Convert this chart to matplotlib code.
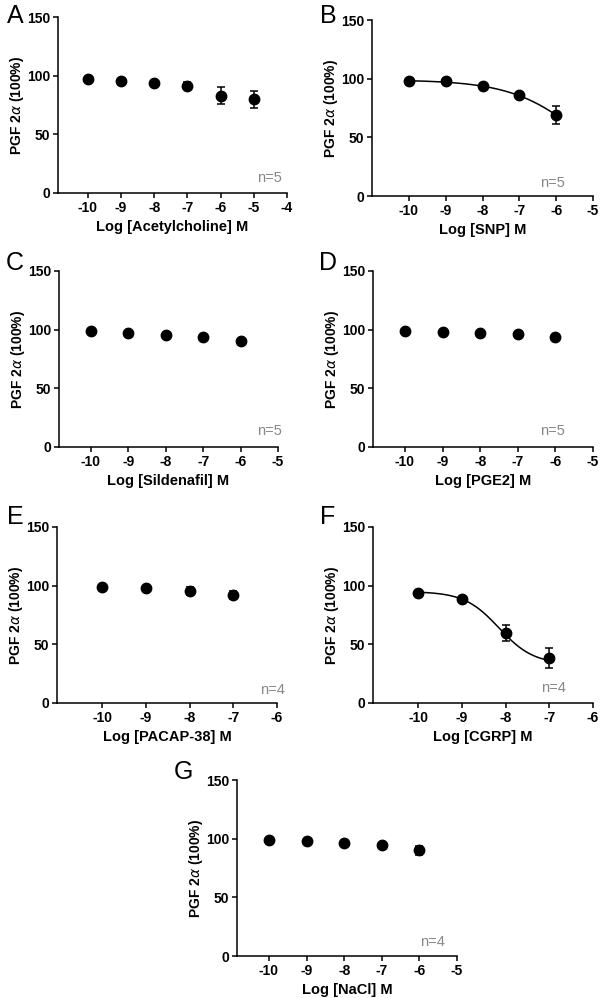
import numpy as np
import matplotlib
matplotlib.use("Agg")
import matplotlib.pyplot as plt

plt.rcParams['font.family'] = ['Liberation Sans', 'DejaVu Sans']
plt.rcParams['axes.unicode_minus'] = False

# ---- data ----
labels = ["A", "B", "C", "D", "E", "F", "G"]
xlabels = ["Log [Acetylcholine] M", "Log [SNP] M", "Log [Sildenafil] M",
           "Log [PGE2] M", "Log [PACAP-38] M", "Log [CGRP] M", "Log [NaCl] M"]
n_text = ["n=5", "n=5", "n=5", "n=5", "n=4", "n=4", "n=4"]

x_A = [-10, -9, -8, -7, -6, -5]
y_A = [97.5, 95.8, 93.8, 91.5, 83.0, 79.8]
e_A = [1.0, 1.0, 1.0, 2.8, 7.2, 7.0]

x_B = [-10, -9, -8, -7, -6]
y_B = [98.3, 97.6, 93.5, 85.8, 69.0]
e_B = [1.0, 1.0, 1.0, 2.2, 7.4]

x_C = [-10, -9, -8, -7, -6]
y_C = [99.2, 97.3, 95.5, 93.8, 90.2]
e_C = [0.8, 0.8, 0.8, 0.8, 0.8]

x_D = [-10, -9, -8, -7, -6]
y_D = [99.2, 97.7, 97.0, 96.0, 93.8]
e_D = [0.8, 0.8, 0.8, 0.8, 0.8]

x_E = [-10, -9, -8, -7]
y_E = [98.6, 97.8, 95.5, 91.8]
e_E = [1.0, 1.0, 3.5, 3.5]

x_F = [-10, -9, -8, -7]
y_F = [93.8, 88.7, 59.9, 38.2]
e_F = [1.0, 1.0, 6.7, 8.5]

x_G = [-10, -9, -8, -7, -6]
y_G = [98.9, 97.6, 96.2, 94.6, 90.0]
e_G = [1.0, 1.0, 1.0, 1.0, 3.8]

# sigmoid fit parameters (top, bottom, logEC50, hill) for panels with a fitted curve
fit_B = (99.0, 0.0, -5.18, 0.44)
fit_F = (95.0, 33.0, -8.15, 1.1)

xlims = [(-10.9, -4), (-11.0, -5), (-10.85, -5), (-10.85, -5),
         (-11.03, -6), (-11.03, -6), (-10.85, -5)]
xticks = [list(range(-10, -3)), list(range(-10, -4)), list(range(-10, -4)),
          list(range(-10, -4)), list(range(-10, -5)), list(range(-10, -5)),
          list(range(-10, -4))]

data = [(x_A, y_A, e_A), (x_B, y_B, e_B), (x_C, y_C, e_C), (x_D, y_D, e_D),
        (x_E, y_E, e_E), (x_F, y_F, e_F), (x_G, y_G, e_G)]
fits = [None, fit_B, None, None, None, fit_F, None]

# ---- layout (pixels in 600x998 figure) ----
W, H = 600, 998
boxes = [  # left, right, top(y150), bottom(y0)
    (58, 287, 17, 193),
    (372, 593, 20, 196),
    (59, 278, 271, 447),
    (373, 593, 271, 447),
    (57, 277, 527, 703),
    (373, 593, 527, 703),
    (237, 457, 780, 956),
]
letter_pos = [(15, 16), (328, 16), (15, 263), (328, 263), (15, 517), (328, 517), (183, 772)]
n_pos = [(0.98, 0.085), (0.873, 0.074), (1.02, 0.093), (0.873, 0.093),
         (1.036, 0.074), (0.877, 0.085), (0.945, 0.081)]

fig = plt.figure(figsize=(W / 100, H / 100), dpi=100)

def sigmoid(x, p):
    top, bottom, ec, h = p
    return bottom + (top - bottom) / (1 + 10 ** (h * (x - ec)))

for i in range(7):
    l, r, t, b = boxes[i]
    ax = fig.add_axes([l / W, 1 - b / H, (r - l) / W, (b - t) / H])
    x, y, e = data[i]
    if fits[i] is not None:
        xs = np.linspace(min(x), max(x), 200)
        ax.plot(xs, sigmoid(xs, fits[i]), color='black', lw=1.1, zorder=2)
    ax.errorbar(x, y, yerr=e, fmt='o', color='black', ms=7.5, elinewidth=1.1,
                capsize=3, capthick=1.1, zorder=3)
    ax.set_xlim(*xlims[i])
    ax.set_ylim(0, 150)
    ax.set_yticks([0, 50, 100, 150])
    ax.set_xticks(xticks[i])
    ax.spines['top'].set_visible(False)
    ax.spines['right'].set_visible(False)
    for s in ('left', 'bottom'):
        ax.spines[s].set_linewidth(1.1)
    ax.tick_params(direction='out', length=3.5, width=1.1, labelsize=10, pad=2)
    for lab in ax.get_xticklabels() + ax.get_yticklabels():
        lab.set_fontweight('bold')
    ax.set_xlabel(xlabels[i], fontsize=10.5, fontweight='bold', labelpad=4)
    ax.set_ylabel(r'PGF 2$\alpha$ (100%)', fontsize=10, fontweight='bold', labelpad=0.5)
    ax.text(n_pos[i][0], n_pos[i][1], n_text[i], transform=ax.transAxes,
            ha='right', va='center', fontsize=10.5, color='#888888')
    lx, ly = letter_pos[i]
    fig.text(lx / W, 1 - ly / H, labels[i], ha='center', va='center', fontsize=18)

fig.savefig('out.png', dpi=100)
